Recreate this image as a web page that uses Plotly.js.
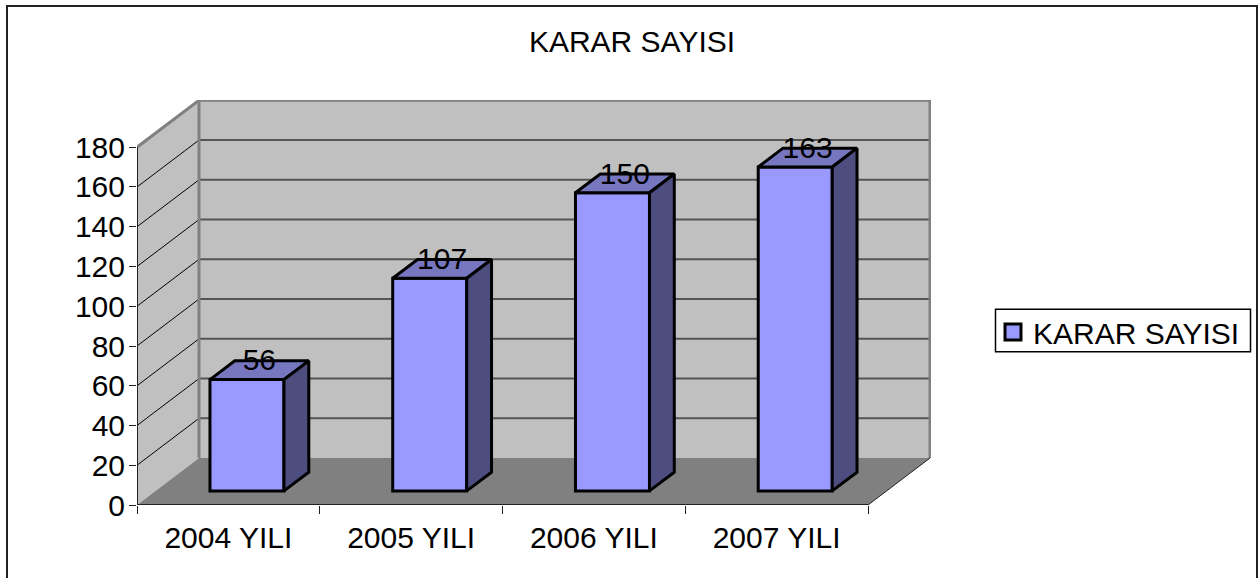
<!DOCTYPE html>
<html><head><meta charset="utf-8">
<script src="https://cdn.plot.ly/plotly-3.0.1.min.js"></script>
<style>html,body{margin:0;padding:0;background:#fff}</style></head>
<body><div id="chart" style="width:1258px;height:578px"></div>
<script>
const categories = ['2004 YILI','2005 YILI','2006 YILI','2007 YILI'];
const values = [56,107,150,163];
const yTicks = [0,20,40,60,80,100,120,140,160,180];
const seriesName = 'KARAR SAYISI';
const titleText = 'KARAR SAYISI';

// plot geometry (pixels -> axis units)
const W=1258,H=578, L=137, R=931, T=100, B=505.5;
const pxPerCat=182.75, pxPerVal=1.99;
const DX=62/pxPerCat, DY=47/pxPerVal;      // depth shear in axis units
const d0=0.3, d1=0.7, barW=0.405;
const yMax=(B-T)/pxPerVal, xMax=(R-L)/pxPerCat, vMax=180, nCat=categories.length;
const P=(c,v,d)=>[c+d*DX, v+d*DY];
const poly=pts=>'M'+pts.map(p=>p[0]+','+p[1]).join(' L')+' Z';
const font={family:'"Liberation Sans",Arial,sans-serif',size:30,color:'#000'};
const pxX=x=>(x-L)/(R-L), pxY=y=>(B-y)/(B-T);

const shapes=[];
const S=(path,fill,lc,lw)=>shapes.push({type:'path',path,xref:'x',yref:'y',layer:'below',fillcolor:fill,line:{color:lc||fill,width:lw||0}});
// back wall, side wall, floor
S(poly([P(0,0,1),P(nCat,0,1),P(nCat,vMax,1),P(0,vMax,1)]),'#C0C0C0');
S(poly([P(0,0,0),P(0,0,1),P(0,vMax,1),P(0,vMax,0)]),'#C0C0C0');
S(poly([P(0,0,0),P(nCat,0,0),P(nCat,0,1),P(0,0,1)]),'#808080');
yTicks.slice(1,-1).forEach(v=>{
  const a=P(0,v,1),b=P(nCat,v,1),c=P(0,v,0);
  shapes.push({type:'line',xref:'x',yref:'y',layer:'below',x0:a[0],y0:a[1],x1:b[0],y1:b[1],line:{color:'#555',width:2}});
  shapes.push({type:'line',xref:'x',yref:'y',layer:'below',x0:c[0],y0:c[1],x1:a[0],y1:a[1],line:{color:'#000',width:1}});
});
// outer chart border
shapes.push({type:'rect',xref:'paper',yref:'paper',layer:'below',
  x0:pxX(7),x1:pxX(1257),y0:pxY(600),y1:pxY(6),line:{color:'#222',width:2},fillcolor:'rgba(0,0,0,0)'});
// legend frame
shapes.push({type:'rect',xref:'paper',yref:'paper',layer:'below',
  x0:pxX(995.5),x1:pxX(1250.5),y0:pxY(352),y1:pxY(309.5),line:{color:'#000',width:1.5},fillcolor:'#fff'});

const traces=[];
const edge=(pts,color,width)=>traces.push({type:'scatter',mode:'lines',x:pts.map(p=>p[0]),y:pts.map(p=>p[1]),
  line:{color,width},cliponaxis:false,showlegend:false,hoverinfo:'skip'});
// bars: front faces
traces.push({type:'bar',name:seriesName,x:categories.map((c,i)=>i+0.5+d0*DX),y:values,base:d0*DY,width:barW,
  marker:{color:'#9999FF',line:{color:'#000',width:3}},hoverinfo:'skip',showlegend:false});
// wall edges
edge([P(0,0,1),P(0,vMax,1),P(nCat,vMax,1),P(nCat,0,1)],'#808080',3);
edge([P(0,vMax,0),P(0,vMax,1)],'#808080',3);
edge([P(nCat,0,0),P(nCat,0,1)],'#222',1);
// axis lines
edge([P(0,0,0),P(0,vMax,0)],'#222',2);
edge([P(0,0,0),P(nCat,0,0)],'#222',2);
// bar top and side faces
values.forEach((v,i)=>{
  const l=i+0.5-barW/2, r=i+0.5+barW/2;
  const face=(pts,fill)=>traces.push({type:'scatter',mode:'lines',fill:'toself',fillcolor:fill,
    x:pts.map(p=>p[0]),y:pts.map(p=>p[1]),line:{color:'#000',width:3},showlegend:false,hoverinfo:'skip'});
  face([P(l,v,d0),P(r,v,d0),P(r,v,d1),P(l,v,d1),P(l,v,d0)],'#7777C0');
  face([P(r,0,d0),P(r,v,d0),P(r,v,d1),P(r,0,d1),P(r,0,d0)],'#4D4D80');
});
// data labels
traces.push({type:'scatter',mode:'text',x:values.map((v,i)=>i+0.5+0.5*DX),y:values.map(v=>v+d1*DY-1),
  text:values.map(String),textposition:'middle center',textfont:font,showlegend:false,hoverinfo:'skip',cliponaxis:false});
// legend entry (square swatch as in the original key)
traces.push({type:'scatter',mode:'markers',name:seriesName,x:[null],y:[null],
  marker:{symbol:'square',size:16,color:'#9999FF',line:{color:'#000',width:3}},hoverinfo:'skip',showlegend:true});

const layout={
  width:W,height:H,paper_bgcolor:'#fff',plot_bgcolor:'rgba(0,0,0,0)',font,
  margin:{l:L,r:W-R,t:T,b:H-B,pad:0,autoexpand:false},
  title:{text:titleText,font,x:632/W,xref:'container',xanchor:'center',y:1-41/H,yref:'container',yanchor:'middle'},
  bargap:0,barmode:'overlay',
  xaxis:{range:[0,xMax],showgrid:false,zeroline:false,showline:false,tickmode:'array',
    tickvals:categories.map((c,i)=>i+0.5),ticktext:categories,ticks:'',ticklen:0,tickfont:font,ticklabelstandoff:12,
    minor:{tickmode:'array',tickvals:categories.map((c,i)=>i).concat([nCat]),ticks:'outside',ticklen:8,tickcolor:'#222',tickwidth:1,showgrid:false}},
  yaxis:{range:[0,yMax],showgrid:false,zeroline:false,showline:false,tickmode:'array',tickvals:yTicks,
    ticks:'outside',ticklen:7,tickcolor:'#222',tickwidth:1,tickfont:font,ticklabelstandoff:-2},
  legend:{x:993/W,y:1-306/H,xref:'container',yref:'container',xanchor:'left',yanchor:'top',font,bgcolor:'rgba(0,0,0,0)',borderwidth:0},
  shapes,showlegend:true
};
Plotly.newPlot('chart',traces,layout,{displayModeBar:false,staticPlot:true});
</script></body></html>
